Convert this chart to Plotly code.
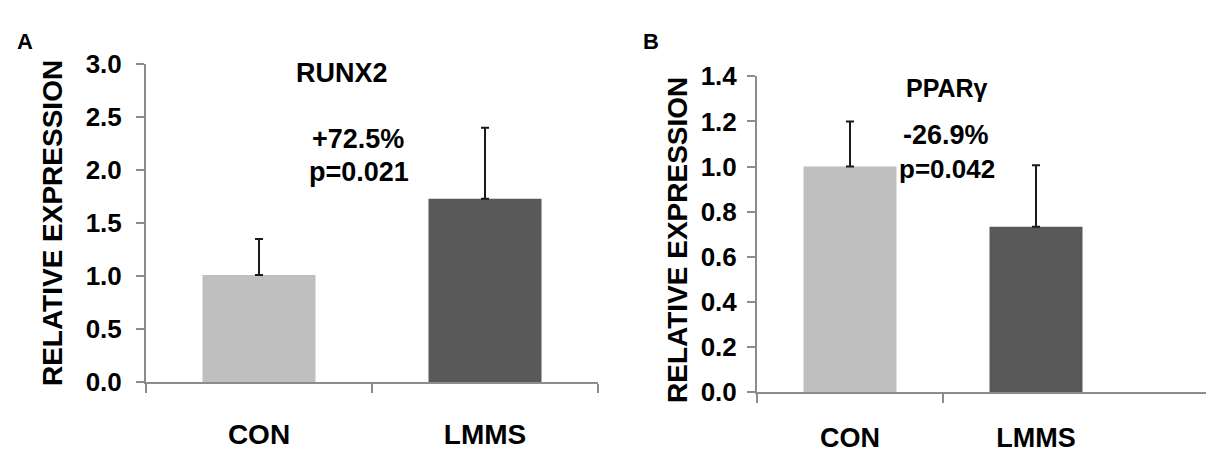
import plotly.graph_objects as go

# ---- data ----
categories = ["CON", "LMMS"]
runx2_values = [1.01, 1.73]
runx2_errors = [0.34, 0.67]
ppar_values = [1.00, 0.733]
ppar_errors = [0.20, 0.273]
bar_colors = ["#BFBFBF", "#595959"]
runx2_ticks = [0.0, 0.5, 1.0, 1.5, 2.0, 2.5, 3.0]
ppar_ticks = [0.0, 0.2, 0.4, 0.6, 0.8, 1.0, 1.2, 1.4]

W, H = 1214, 461
OFF = 8  # page body margin
FONT = "Liberation Sans, Arial, sans-serif"
AXC = "#8c8c8c"
positions = list(range(len(categories)))


def px(x):
    return (x - OFF) / W


def py(y):
    return 1 - (y - OFF) / H


fig = go.Figure()

for vals, errs, xa, ya in [(runx2_values, runx2_errors, "x", "y"),
                           (ppar_values, ppar_errors, "x2", "y2")]:
    fig.add_trace(go.Bar(
        x=positions, y=vals, width=0.5,
        marker=dict(color=bar_colors, line=dict(width=0)),
        error_y=dict(type="data", array=errs, arrayminus=[0] * len(errs),
                     symmetric=False, color="#1a1a1a", thickness=2, width=4),
        xaxis=xa, yaxis=ya, showlegend=False,
    ))


def xaxis_cfg(domain, rng, minor_vals, size, standoff):
    return dict(
        domain=domain, range=rng, tickmode="array", tickvals=positions,
        ticktext=categories, ticks="", showline=True, linecolor=AXC,
        linewidth=2, showgrid=False, zeroline=False, fixedrange=True,
        tickfont=dict(family=FONT, size=size, color="black", weight="bold"),
        ticklabelstandoff=standoff,
        minor=dict(tickmode="array", tickvals=minor_vals, ticks="outside",
                   ticklen=9, tickwidth=2, tickcolor=AXC, showgrid=False),
    )


def yaxis_cfg(domain, rng, tvals, anchor, standoff):
    return dict(
        domain=domain, range=rng, tickmode="array", tickvals=tvals,
        tickformat=".1f", ticks="outside", ticklen=8, tickwidth=2,
        tickcolor=AXC, showline=True, linecolor=AXC, linewidth=2,
        showgrid=False, zeroline=False, anchor=anchor, fixedrange=True,
        ticklabelstandoff=standoff,
        tickfont=dict(family=FONT, size=26, color="black", weight="bold"),
    )


fig.update_layout(
    width=W, height=H, margin=dict(l=0, r=0, t=0, b=0),
    paper_bgcolor="white", plot_bgcolor="white", showlegend=False,
    xaxis=xaxis_cfg([px(146), px(598)], [-0.5, 1.5], [-0.5, 0.5, 1.5], 28, 26),
    yaxis=yaxis_cfg([py(392), py(52)], [0, 3.0], runx2_ticks, "x", 9),
    xaxis2=dict(xaxis_cfg([px(757), px(1214)], [-0.5, 1.957], [-0.5, 0.5], 27, 20),
                anchor="y2"),
    yaxis2=yaxis_cfg([py(403), py(65)], [0, 1.4], ppar_ticks, "x2", 5),
)


def ann(text, x, y, size, angle=0):
    fig.add_annotation(
        text=text, x=px(x), y=py(y), xref="paper", yref="paper",
        xanchor="center", yanchor="middle", showarrow=False, textangle=angle,
        font=dict(family=FONT, size=size, color="black", weight="bold"),
    )


ann("A", 25, 28, 22)
ann("B", 651, 28, 22)
ann("RELATIVE EXPRESSION", 52, 222, 28, -90)
ann("RELATIVE EXPRESSION", 678, 240, 28, -90)
ann("RUNX2", 342, 62, 27)
ann("+72.5%", 358, 132, 27)
ann("p=0.021", 359, 167, 27)
ann("PPARγ", 947, 78, 25)
ann("-26.9%", 946, 128, 27)
ann("p=0.042", 947, 164, 26)

fig.write_html("out.html")
